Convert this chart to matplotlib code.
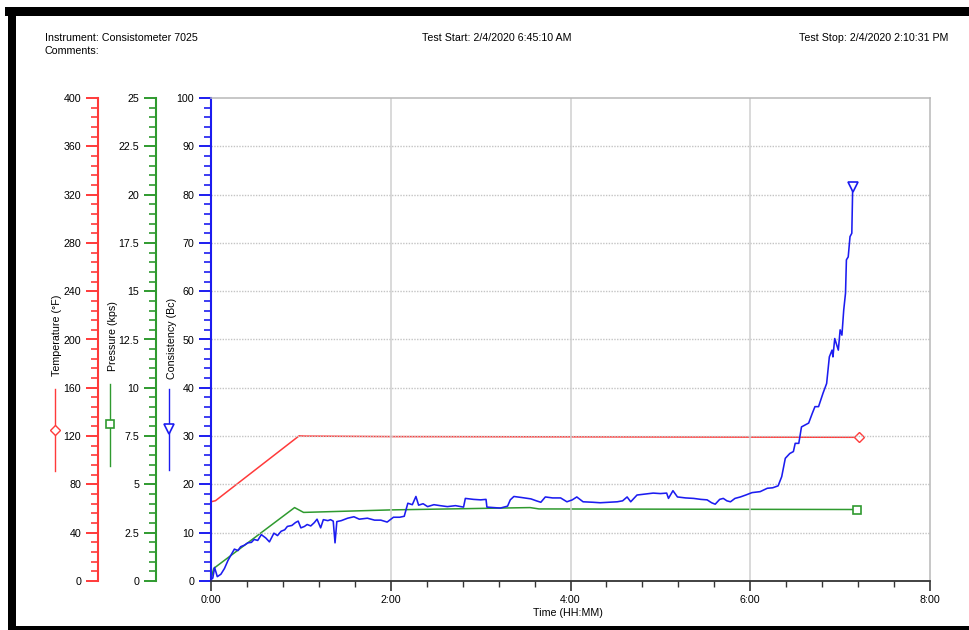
import matplotlib
matplotlib.use("Agg")
import matplotlib.pyplot as plt
from matplotlib.ticker import MultipleLocator, FuncFormatter
from matplotlib.lines import Line2D
from matplotlib.patches import Rectangle

plt.rcParams['font.family'] = ['Liberation Sans', 'DejaVu Sans']

# ---------------- data ----------------
cons_hours = [0.00, 0.02, 0.04, 0.07, 0.11, 0.15, 0.19, 0.23, 0.26, 0.30, 0.33, 0.37, 0.41, 0.45,
              0.48, 0.52, 0.56, 0.61, 0.65, 0.70, 0.74, 0.78, 0.82, 0.85, 0.90, 0.94, 0.97, 1.00,
              1.04, 1.07, 1.11, 1.15, 1.18, 1.22, 1.25, 1.30, 1.33, 1.36, 1.38, 1.40, 1.45, 1.52,
              1.59, 1.65, 1.74, 1.82, 1.89, 1.96, 2.03, 2.10, 2.15, 2.19, 2.24, 2.28, 2.31, 2.36,
              2.41, 2.48, 2.55, 2.63, 2.72, 2.81, 2.83, 2.92, 3.00, 3.06, 3.07, 3.15, 3.22, 3.30,
              3.33, 3.37, 3.45, 3.56, 3.62, 3.67, 3.72, 3.80, 3.89, 3.96, 4.02, 4.07, 4.14, 4.25,
              4.33, 4.42, 4.52, 4.58, 4.63, 4.67, 4.74, 4.83, 4.92, 5.00, 5.07, 5.09, 5.14, 5.19,
              5.28, 5.37, 5.45, 5.52, 5.57, 5.61, 5.66, 5.70, 5.74, 5.78, 5.83, 5.89, 5.95, 6.02,
              6.11, 6.19, 6.25, 6.31, 6.35, 6.39, 6.44, 6.48, 6.50, 6.54, 6.57, 6.65, 6.69, 6.72,
              6.76, 6.81, 6.85, 6.88, 6.91, 6.92, 6.94, 6.98, 7.00, 7.02, 7.04, 7.06, 7.07, 7.09,
              7.11, 7.13, 7.14]
consistency = [0.3, 0.6, 2.8, 0.9, 1.4, 2.6, 4.3, 5.6, 6.6, 6.3, 7.1, 7.4, 7.9, 8.0,
               8.6, 8.4, 9.6, 8.9, 8.1, 9.9, 9.4, 10.3, 10.6, 11.3, 11.5, 12.1, 12.4, 11.0,
               11.3, 11.7, 11.4, 12.1, 12.8, 11.0, 12.7, 12.5, 12.7, 12.4, 7.9, 12.3, 12.5, 13.0,
               13.3, 12.8, 13.0, 12.6, 12.6, 12.2, 13.2, 13.2, 13.4, 16.1, 15.8, 17.5, 15.7, 16.0,
               15.4, 15.8, 15.6, 15.4, 15.6, 15.3, 17.1, 16.9, 16.8, 16.9, 15.3, 15.2, 15.1, 15.5,
               16.8, 17.5, 17.3, 17.0, 16.6, 16.3, 17.4, 17.2, 17.2, 16.4, 16.8, 17.4, 16.4, 16.3,
               16.2, 16.3, 16.4, 16.6, 17.4, 16.4, 17.8, 18.0, 18.2, 18.1, 18.2, 17.1, 18.7, 17.4,
               17.2, 17.1, 16.9, 16.8, 16.2, 15.9, 16.9, 17.1, 16.6, 16.4, 17.1, 17.4, 17.8, 18.3,
               18.5, 19.2, 19.3, 19.7, 21.6, 25.4, 26.4, 26.8, 28.5, 28.5, 31.9, 32.7, 34.7, 36.1,
               36.1, 38.9, 40.9, 46.4, 47.8, 46.4, 50.2, 47.8, 52.0, 50.9, 56.1, 59.6, 66.5, 67.1,
               71.3, 72.0, 81.6]

temp_hours = [0.00, 0.05, 0.98, 1.05, 2.00, 4.00, 7.21]
temperature = [65.6, 66.5, 120.2, 120.0, 119.6, 119.4, 119.0]

pres_hours = [0.00, 0.03, 0.93, 1.03, 2.00, 3.55, 3.65, 7.19]
pressure = [0.1, 0.65, 3.8, 3.55, 3.68, 3.8, 3.73, 3.7]

x_ticks = [0, 2, 4, 6, 8]
header_left = "Instrument: Consistometer 7025"
header_comments = "Comments:"
header_start = "Test Start: 2/4/2020 6:45:10 AM"
header_stop = "Test Stop: 2/4/2020 2:10:31 PM"

# ---------------- style ----------------
RED = '#ff3a3a'
GREEN = '#2f9a2f'
BLUE = '#1c1cf0'
FS = 7.7

W, H = 969, 630
fig = plt.figure(figsize=(W / 100, H / 100), dpi=100)

def fx(px):
    return px / W

def fy(py):
    return 1 - py / H

ax_l, ax_r, ax_t, ax_b = 211, 930, 98, 581
ax = fig.add_axes([fx(ax_l), fy(ax_b), (ax_r - ax_l) / W, (ax_b - ax_t) / H])
ax.set_xlim(0, 8)
ax.set_ylim(0, 100)

# grid
for v in range(10, 100, 10):
    ax.axhline(v, color='#c4c4c4', lw=1.0, ls=(0, (1, 1)), zorder=0)
for v in [2, 4, 6]:
    ax.axvline(v, color='#cfcfcf', lw=1.1, zorder=0)

for s in ['top', 'right']:
    ax.spines[s].set_color('#b8b8b8')
    ax.spines[s].set_linewidth(1.1)
ax.spines['left'].set_color(BLUE)
ax.spines['left'].set_linewidth(1.5)
ax.spines['bottom'].set_color('#333333')
ax.spines['bottom'].set_linewidth(1.3)

ax.set_xticks(x_ticks)
ax.xaxis.set_minor_locator(MultipleLocator(0.4))
ax.xaxis.set_major_formatter(FuncFormatter(lambda v, p: f"{int(v)}:00"))
ax.tick_params(axis='x', which='major', length=7, width=1.2, color='#333333', labelsize=FS, pad=3)
ax.tick_params(axis='x', which='minor', length=4, width=1.0, color='#333333')

ax.yaxis.set_major_locator(MultipleLocator(10))
ax.yaxis.set_minor_locator(MultipleLocator(2))
ax.tick_params(axis='y', which='major', length=9, width=1.4, color=BLUE, labelsize=FS, pad=3)
ax.tick_params(axis='y', which='minor', length=5, width=1.2, color=BLUE)
ax.set_xlabel("Time (HH:MM)", fontsize=FS, labelpad=1)
ax.xaxis.set_label_coords((568 - ax_l) / (ax_r - ax_l), -(608 - ax_b) / (ax_b - ax_t))

# pressure axis
axp = ax.twinx()
axp.set_ylim(0, 25)
axp.spines['left'].set_position(('axes', (156 - ax_l) / (ax_r - ax_l)))
axp.spines['left'].set_visible(True)
axp.spines['left'].set_color(GREEN)
axp.spines['left'].set_linewidth(1.5)
for s in ['top', 'right', 'bottom']:
    axp.spines[s].set_visible(False)
axp.yaxis.set_ticks_position('left')
axp.yaxis.set_major_locator(MultipleLocator(2.5))
axp.yaxis.set_minor_locator(MultipleLocator(0.5))
axp.yaxis.set_major_formatter(FuncFormatter(lambda v, p: f"{v:g}"))
axp.tick_params(axis='y', which='major', length=9, width=1.4, color=GREEN, labelsize=FS, pad=3)
axp.tick_params(axis='y', which='minor', length=5, width=1.2, color=GREEN)

# temperature axis
axt = ax.twinx()
axt.set_ylim(0, 400)
axt.spines['left'].set_position(('axes', (98 - ax_l) / (ax_r - ax_l)))
axt.spines['left'].set_visible(True)
axt.spines['left'].set_color(RED)
axt.spines['left'].set_linewidth(1.5)
for s in ['top', 'right', 'bottom']:
    axt.spines[s].set_visible(False)
axt.yaxis.set_ticks_position('left')
axt.yaxis.set_major_locator(MultipleLocator(40))
axt.yaxis.set_minor_locator(MultipleLocator(8))
axt.tick_params(axis='y', which='major', length=9, width=1.4, color=RED, labelsize=FS, pad=3)
axt.tick_params(axis='y', which='minor', length=5, width=1.2, color=RED)

# data lines
axt.plot(temp_hours, temperature, color=RED, lw=1.1, clip_on=False, zorder=3)
axt.plot(temp_hours[-1], temperature[-1], marker='D', ms=5, mfc='white', mec=RED, mew=1.0,
         clip_on=False, zorder=4)
axp.plot(pres_hours, pressure, color=GREEN, lw=1.1, clip_on=False, zorder=3)
axp.plot(pres_hours[-1], pressure[-1], marker='s', ms=6, mfc='white', mec=GREEN, mew=1.2,
         clip_on=False, zorder=4)
ax.plot(cons_hours, consistency, color=BLUE, lw=1.15, zorder=5)
ax.plot(cons_hours[-1], consistency[-1], marker='v', ms=7, mfc='white', mec=BLUE, mew=1.2,
        clip_on=False, zorder=6)
ax.set_zorder(axt.get_zorder() + 2)
ax.patch.set_visible(False)

# overlay for decorations
ov = fig.add_axes([0, 0, 1, 1], zorder=-1)
ov.set_xlim(0, W)
ov.set_ylim(H, 0)
ov.axis('off')
ov.add_patch(Rectangle((5, 7), W - 5, 9, color='black', lw=0))
ov.add_patch(Rectangle((8, 7), 8, H - 7, color='black', lw=0))
ov.add_patch(Rectangle((8, 626), W - 8, 4, color='black', lw=0))

ov.text(45, 38, header_left, fontsize=FS, va='center', ha='left')
ov.text(45, 51, header_comments, fontsize=FS, va='center', ha='left')
ov.text(497, 38, header_start, fontsize=FS, va='center', ha='center')
ov.text(948, 38, header_stop, fontsize=FS, va='center', ha='right')

# axis titles + legend glyphs
ov.text(57, 335, "Temperature (°F)", fontsize=FS, rotation=90, ha='center', va='center')
ov.text(113, 336, "Pressure (kps)", fontsize=FS, rotation=90, ha='center', va='center')
ov.text(172, 338, "Consistency (Bc)", fontsize=FS, rotation=90, ha='center', va='center')

ov.add_line(Line2D([55, 55], [389, 471], color=RED, lw=1.0))
ov.plot(55, 430, marker='D', ms=5, mfc='white', mec=RED, mew=1.0)
ov.add_line(Line2D([110, 110], [384, 466], color=GREEN, lw=1.0))
ov.plot(110, 424, marker='s', ms=6, mfc='white', mec=GREEN, mew=1.2)
ov.add_line(Line2D([169, 169], [389, 470], color=BLUE, lw=1.0))
ov.plot(169, 429, marker='v', ms=7, mfc='white', mec=BLUE, mew=1.2)

fig.savefig("out.png", dpi=100)
